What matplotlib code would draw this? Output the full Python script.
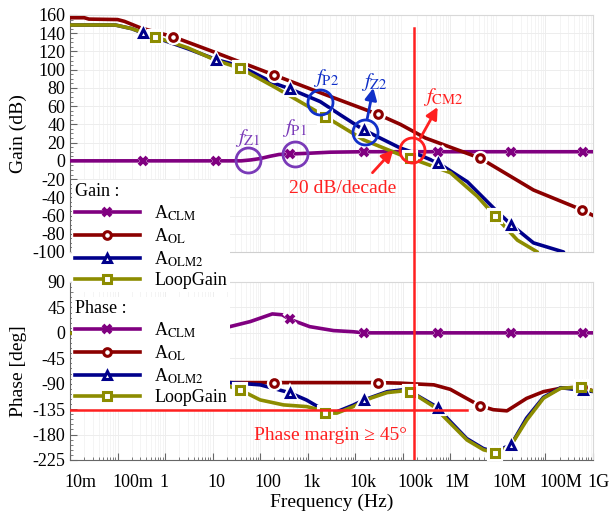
import numpy as np
import matplotlib
matplotlib.use("Agg")
import matplotlib.pyplot as plt
from matplotlib.lines import Line2D
from matplotlib.ticker import LogLocator, NullFormatter, AutoMinorLocator
from matplotlib.transforms import ScaledTranslation

plt.rcParams['font.family'] = ['Liberation Serif', 'DejaVu Serif']
plt.rcParams['mathtext.fontset'] = 'stix'
plt.rcParams['axes.unicode_minus'] = False

# ---------------- gain data (Hz, dB) ----------------
clm_gain_f = [0.01, 0.35, 12, 40, 63, 100, 160, 250, 420, 1000, 3000, 15e3, 540e3, 19e6, 630e6, 1.1e9]
clm_gain = [0, 0, 0, 0, 1, 2.5, 5, 7, 7.5, 8.3, 9.5, 10, 10, 10, 10, 10]

ol_gain_f = [0.01, 0.02, 0.025, 0.1, 0.14, 0.3, 1.5, 10, 200, 2000, 30e3, 89e3, 300e3, 4.2e6, 56e6, 600e6, 1.1e9]
ol_gain = [157, 157, 155.5, 155, 153, 146, 136, 120, 94, 74, 51, 40, 25, 3, -32, -54, -61]

olm2_gain_f = [0.01, 0.09, 0.2, 0.35, 0.617, 3, 12, 38, 200, 420, 1830, 5000, 15e3, 89e3, 170e3, 540e3,
               2.28e6, 9.8e6, 19e6, 56e6, 240e6]
olm2_gain = [149, 149, 145, 140, 135.5, 123, 111, 104, 85, 79, 65, 50, 34, 14, 9, -2, -23, -56, -70, -90, -100]

loop_gain_f = [0.01, 0.09, 0.2, 0.617, 3, 12, 38, 200, 1000, 2340, 15e3, 89e3, 144e3, 1e6, 3.7e6, 8.85e6,
               25.7e6, 67.6e6]
loop_gain = [149, 149, 145, 136, 124, 110, 101.6, 81, 60, 48.6, 23, 6.6, 3, -13, -39, -61, -87, -100]

# ---------------- phase data (Hz, deg) ----------------
clm_ph_f = [0.01, 0.35, 1, 5, 12, 23, 62, 180, 290, 420, 1100, 3500, 9000, 15e3, 540e3, 19e6, 630e6, 1.1e9]
clm_ph = [0, 0, 0, 2, 5, 11, 20, 33.5, 32, 24, 11, 4, 2, 0, 0, 0, 0, 0]

ol_ph_f = [0.01, 0.03, 0.14, 0.5, 1.5, 5, 23, 200, 30e3, 89e3, 450e3, 1e6, 2.2e6, 4.2e6, 8e6, 15.5e6,
           40e6, 91e6, 210e6, 600e6, 1.1e9]
ol_ph = [0, -10, -45, -75, -85, -88, -88, -88, -88, -89, -92, -100, -116, -129, -136, -138, -116, -104, -98, -96, -104]

olm2_ph_f = [0.01, 0.03, 0.14, 0.35, 1.5, 5, 12, 23, 100, 420, 950, 1830, 2340, 4000, 9000, 15e3, 47e3, 120e3,
             450e3, 540e3, 1e6, 2.2e6, 5e6, 8.85e6, 19e6, 40e6, 91e6, 210e6, 630e6, 1.1e9]
olm2_ph = [0, -10, -45, -65, -85, -87, -88, -88, -92, -106, -119, -133, -140, -140, -128, -119, -104, -100,
           -128, -133, -157, -187, -205, -210, -198, -151, -114, -97, -102, -104]

loop_ph_f = [0.01, 0.03, 0.14, 0.617, 1.5, 5, 23, 38, 100, 310, 950, 1830, 2340, 4100, 9100, 21e3, 47e3,
             123e3, 144e3, 450e3, 1e6, 2.24e6, 5e6, 8.85e6, 18.2e6, 40.7e6, 91e6, 209e6, 550e6, 1.1e9]
loop_ph = [0, -10, -45, -78, -87, -90, -95, -101, -118.7, -127.5, -130.5, -136.4, -142, -142, -130.5,
           -115.6, -105.7, -102, -104, -130.5, -160, -189.6, -207, -212, -201, -154, -115.6, -98, -96, -104]

# marker frequencies
clm_mk = [0.35, 12, 420, 15e3, 540e3, 19e6, 630e6]
ol_mk = [1.5, 200, 30e3, 4.2e6, 600e6]
olm2_mk = [0.35, 12, 420, 15e3, 540e3, 19e6, 630e6]
loop_mk = [0.617, 38, 2340, 144e3, 8.85e6, 550e6]

freq_ticks = [1e-2, 1e-1, 1, 10, 100, 1e3, 1e4, 1e5, 1e6, 1e7, 1e8, 1e9]
freq_labels = ['10m', '100m', '1', '10', '100', '1k', '10k', '100k', '1M', '10M', '100M', '1G']

f_cross = 170e3
pm_level = -137

c_clm = '#800080'
c_ol = '#8B0000'
c_olm2 = '#00008B'
c_loop = '#8C8C00'
c_red = '#FF2020'
c_ann_purple = '#7A3AB8'
c_ann_blue = '#1030C8'

styles = [
    ('A$_{\\mathrm{CLM}}$', c_clm, 'x'),
    ('A$_{\\mathrm{OL}}$', c_ol, 'o'),
    ('A$_{\\mathrm{OLM2}}$', c_olm2, '^'),
    ('LoopGain', c_loop, 's'),
]


def draw(ax, f, v, mk, color, marker):
    ax.plot(f, v, color=color, lw=2.6, solid_capstyle='round', zorder=3)
    idx = [f.index(m) for m in mk if m in f]
    fm = [f[i] for i in idx]
    vm = [v[i] for i in idx]
    ax.plot(fm, vm, ls='none', marker=marker, ms=8, mfc='white', mec='white', mew=3, zorder=4)
    ax.plot(fm, vm, ls='none', marker=marker, ms=5.5, mfc='white', mec=color,
            mew=2.8 if marker == 'x' else 2.2, zorder=5)


fig = plt.figure(figsize=(6.1, 5.16), dpi=100)
ax_g = fig.add_axes([70 / 610, 1 - 252 / 516, 523 / 610, 237 / 516])
ax_p = fig.add_axes([70 / 610, 1 - 460 / 516, 523 / 610, 178 / 516])

for ax in (ax_g, ax_p):
    ax.set_xscale('log')
    ax.set_xlim(1e-2, 1e9)
    ax.grid(True, which='major', color='#ededed', lw=0.7)
    ax.grid(True, which='minor', axis='x', color='#f2f2f2', lw=0.6)
    ax.set_axisbelow(True)
    ax.xaxis.set_minor_locator(LogLocator(base=10, subs=np.arange(2, 10), numticks=100))
    ax.xaxis.set_minor_formatter(NullFormatter())
    for s in ('top', 'right'):
        ax.spines[s].set_color('#d8d8d8')
    ax.spines['left'].set_color('#666666')
    ax.tick_params(axis='y', which='both', direction='in', colors='#666666', labelcolor='black',
                   labelsize=13, right=False)
    ax.tick_params(axis='y', which='major', length=5)
    ax.tick_params(axis='y', which='minor', length=2.5)

# gain panel
draw(ax_g, clm_gain_f, clm_gain, clm_mk, c_clm, 'x')
draw(ax_g, ol_gain_f, ol_gain, ol_mk, c_ol, 'o')
draw(ax_g, olm2_gain_f, olm2_gain, olm2_mk, c_olm2, '^')
draw(ax_g, loop_gain_f, loop_gain, loop_mk, c_loop, 's')
ax_g.set_ylim(-100, 160)
ax_g.set_yticks(range(-100, 161, 20))
ax_g.yaxis.set_minor_locator(AutoMinorLocator(4))
ax_g.spines['bottom'].set_color('#cfcfcf')
ax_g.tick_params(axis='x', which='both', bottom=False, labelbottom=False)
ax_g.set_ylabel('Gain (dB)', fontsize=14, labelpad=4)

# phase panel
draw(ax_p, clm_ph_f, clm_ph, clm_mk, c_clm, 'x')
draw(ax_p, ol_ph_f, ol_ph, ol_mk, c_ol, 'o')
draw(ax_p, olm2_ph_f, olm2_ph, olm2_mk, c_olm2, '^')
draw(ax_p, loop_ph_f, loop_ph, loop_mk, c_loop, 's')
ax_p.set_ylim(-225, 90)
ax_p.set_yticks(range(-225, 91, 45))
ax_p.yaxis.set_minor_locator(AutoMinorLocator(5))
ax_p.spines['bottom'].set_color('#666666')
ax_p.set_xticks(freq_ticks, freq_labels)
ax_p.tick_params(axis='x', which='both', direction='in', colors='#666666', labelcolor='black',
                 labelsize=13, pad=10)
ax_p.tick_params(axis='x', which='major', length=5)
ax_p.tick_params(axis='x', which='minor', length=2.5)
for lbl in ax_p.get_xticklabels():
    lbl.set_ha('left')
    lbl.set_transform(lbl.get_transform() + ScaledTranslation(-4 / 72, 0, fig.dpi_scale_trans))
ax_p.set_xlabel('Frequency (Hz)', fontsize=14, labelpad=2)
ax_p.set_ylabel('Phase [deg]', fontsize=14, labelpad=4)

# crossover line and phase margin line
ax_g.plot([f_cross, f_cross], [146, -140], color=c_red, lw=1.8, clip_on=False, zorder=6)
ax_p.axvline(f_cross, color=c_red, lw=1.8, zorder=6)
ax_p.plot([1e-2, 2.2e6], [pm_level, pm_level], color=c_red, lw=1.8, zorder=6)
ax_p.text(2.95e3, -181, 'Phase margin \u2265 45\u00b0', color=c_red, fontsize=14,
          ha='center', va='center', family=['Liberation Serif', 'DejaVu Serif'])

# gain annotations
circ = dict(ls='none', marker='o', ms=18, mfc='none', mew=2, zorder=7)
ax_g.plot([56], [1], mec=c_ann_purple, **circ)
ax_g.plot([546], [7.7], mec=c_ann_purple, **circ)
ax_g.plot([1830], [65], mec=c_ann_blue, **circ)
ax_g.plot([16.2e3], [32], mec=c_ann_blue, **circ)
ax_g.plot([158e3], [12], mec=c_red, **circ)
ax_g.text(56, 25, '$f_{\\mathrm{Z1}}$', color=c_ann_purple, fontsize=15, ha='center', va='center')
ax_g.text(520, 36, '$f_{\\mathrm{P1}}$', color=c_ann_purple, fontsize=15, ha='center', va='center')
ax_g.text(2450, 91, '$f_{\\mathrm{P2}}$', color=c_ann_blue, fontsize=15, ha='center', va='center')
ax_g.text(25e3, 86, '$f_{\\mathrm{Z2}}$', color=c_ann_blue, fontsize=15, ha='center', va='center')
ax_g.text(720e3, 70, '$f_{\\mathrm{CM2}}$', color=c_red, fontsize=15, ha='center', va='center')
ax_g.text(5.4e3, -30, '20 dB/decade', color=c_red, fontsize=14, ha='center', va='center')
arr = dict(arrowstyle='-|>,head_length=0.7,head_width=0.35', lw=2, shrinkA=0, shrinkB=0)
ax_g.annotate('', xy=(24e3, 80), xytext=(17.8e3, 46), arrowprops=dict(color=c_ann_blue, **arr), zorder=8)
ax_g.annotate('', xy=(540e3, 59), xytext=(234e3, 25), arrowprops=dict(color=c_red, **arr), zorder=8)
ax_g.annotate('', xy=(63e3, 12), xytext=(23e3, -13), arrowprops=dict(color=c_red, **arr), zorder=8)

# legends
def handles():
    hs = []
    for lab, col, mk in styles:
        hs.append(Line2D([], [], color=col, lw=2.6, marker=mk, ms=5.5, mfc='white', mec=col,
                         mew=2.8 if mk == 'x' else 2.2))
    return hs

labels = [s[0] for s in styles]
for title, top in (('Gain :', 180), ('Phase :', 297)):
    leg = fig.legend(handles(), labels, title=title, loc='upper left',
                     bbox_to_anchor=(72 / 610, 1 - top / 516), borderaxespad=0,
                     fontsize=13, title_fontsize=13, frameon=True, facecolor='white',
                     edgecolor='none', framealpha=1, fancybox=False, handlelength=3.6,
                     handletextpad=0.8, labelspacing=0.2, borderpad=0.15, alignment='left')

fig.savefig('out.png', dpi=100)
